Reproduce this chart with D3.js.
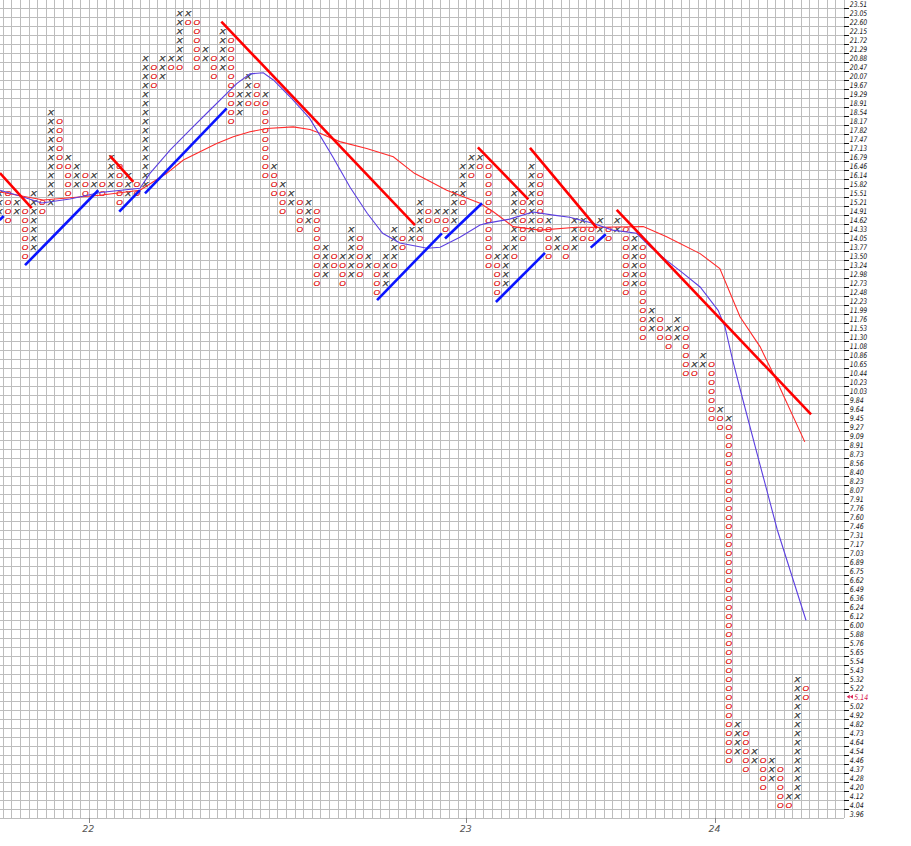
<!DOCTYPE html>
<html><head><meta charset="utf-8">
<script src="https://cdn.jsdelivr.net/npm/d3@7"></script>
<style>html,body{margin:0;padding:0;background:#fff;}svg{display:block;}</style>
</head><body><div id="chart"></div>
<script>
// ---------- DATA ----------
const boxLabels = ["23.51","23.05","22.60","22.15","21.72","21.29","20.88","20.47","20.07","19.67","19.29","18.91","18.54","18.17","17.82","17.47","17.13","16.79","16.46","16.14","15.82","15.51","15.21","14.91","14.62","14.33","14.05","13.77","13.50","13.24","12.98","12.73","12.48","12.23","11.99","11.76","11.53","11.30","11.08","10.86","10.65","10.44","10.23","10.03","9.84","9.64","9.45","9.27","9.09","8.91","8.73","8.56","8.40","8.23","8.07","7.91","7.76","7.60","7.46","7.31","7.17","7.03","6.89","6.75","6.62","6.49","6.36","6.24","6.12","6.00","5.88","5.76","5.65","5.54","5.43","5.32","5.22","5.12","5.02","4.92","4.82","4.73","4.64","4.54","4.46","4.37","4.28","4.20","4.12","4.04","3.96"];
const currentPrice = 5.14;
const yearTicks = [[10,"22"],[54,"23"],[83,"24"]];   // [first column of year, label]

// [column, top price, bottom price]
const xCols = [[-1,15.51,14.91],[1,15.21,14.91],[3,15.51,13.77],[5,18.54,15.21],[7,16.79,16.79],[8,16.46,15.82],[10,16.14,15.82],[12,16.79,15.82],[14,16.14,15.51],[16,20.88,15.82],[18,20.88,20.07],[19,20.88,20.88],[20,23.05,20.88],[21,23.05,23.05],[23,21.29,20.88],[25,22.15,20.47],[27,19.29,18.54],[28,20.07,19.29],[30,19.29,19.29],[31,16.46,16.46],[32,15.82,15.82],[33,15.51,15.21],[35,15.21,14.62],[37,13.77,12.98],[39,13.50,13.50],[40,14.33,12.98],[42,13.50,13.24],[44,13.50,12.73],[45,14.33,13.50],[47,14.33,14.05],[48,15.21,14.33],[50,14.91,14.91],[51,14.91,14.91],[52,15.51,14.62],[53,16.46,15.51],[54,16.79,16.46],[55,16.79,16.79],[57,13.50,13.50],[58,13.77,12.73],[59,15.51,13.77],[61,16.46,14.33],[63,14.62,14.62],[64,14.05,13.77],[66,14.62,13.77],[67,14.62,14.62],[69,14.62,14.33],[71,14.62,14.33],[73,14.05,12.73],[75,11.99,11.53],[77,11.53,11.53],[78,11.76,11.30],[80,10.65,10.65],[81,10.86,10.65],[83,9.64,9.64],[84,9.45,9.45],[85,4.82,4.54],[87,4.54,4.46],[89,4.46,4.28],[91,4.12,4.12],[92,5.32,4.12]];
const oCols = [[0,15.51,14.62],[2,14.91,13.50],[4,15.21,14.91],[6,18.17,16.46],[7,16.46,15.51],[9,16.14,15.51],[11,15.82,15.51],[13,16.46,15.21],[15,15.82,15.51],[17,20.47,19.67],[19,20.47,20.47],[20,20.47,20.47],[21,22.60,22.60],[22,22.60,20.47],[24,20.88,20.07],[26,21.72,18.17],[28,18.91,18.91],[29,19.67,18.91],[30,18.91,16.14],[31,16.14,15.51],[32,15.51,14.91],[34,15.21,14.33],[36,14.91,12.73],[38,13.50,13.24],[39,13.24,12.73],[41,14.05,12.98],[43,13.24,12.48],[45,13.24,13.24],[46,14.05,13.77],[48,14.05,14.05],[49,14.91,14.62],[50,14.62,14.62],[51,14.62,14.33],[53,15.21,15.21],[54,16.14,16.14],[55,16.46,16.46],[56,16.46,13.24],[57,13.24,12.48],[59,13.50,13.50],[60,15.21,14.05],[62,16.14,14.33],[63,14.33,13.50],[65,13.77,13.50],[67,14.33,14.05],[68,14.33,14.05],[70,14.33,14.05],[72,14.33,12.48],[74,13.77,11.30],[76,11.76,11.30],[77,11.30,11.08],[79,11.53,10.44],[80,10.44,10.44],[82,10.65,9.45],[83,9.45,9.27],[84,9.27,4.46],[86,4.73,4.37],[88,4.46,4.20],[90,4.37,4.04],[91,4.04,4.04],[93,5.22,5.12]];

// trend lines: [col1, price1, col2, price2]
const redTrend = [[-0.9,16.20,2.8,15.00],[11.93,16.82,14.64,15.89],[24.9,22.60,47.47,14.45],[54.8,17.14,60.68,15.29],[60.87,17.12,68.68,14.35],[70.98,14.94,93.63,9.53]];
const blueTrend = [[-0.95,14.61,-0.45,14.74],[2.02,13.23,10.56,15.60],[13.0,14.88,15.42,15.60],[16.0,15.49,25.52,18.68],[43.05,12.25,50.6,14.19],[50.97,14.03,55.28,15.16],[56.9,12.20,62.62,13.59],[67.95,13.75,69.7,14.16]];

// moving averages: [col, price]
const fastMA = [[-0.9,15.60],[1.43,15.40],[3.96,15.17],[7.26,15.30],[10.76,15.52],[15.42,15.67],[16.58,16.19],[18.92,17.04],[21.25,17.81],[23.58,18.61],[26.69,19.72],[28.24,20.15],[29.79,20.20],[30.96,19.88],[32.9,19.16],[35.2,18.27],[37.9,16.78],[39.9,15.70],[41.9,14.83],[43.7,14.19],[45.7,13.89],[48.9,13.73],[50.4,13.76],[52.7,14.07],[55.05,14.45],[55.9,14.51],[58.5,14.64],[61.2,14.87],[63.6,14.77],[65.5,14.70],[68.2,14.51],[70.5,14.29],[73.3,14.19],[74.9,13.77],[76.8,13.37],[78.7,13.00],[80.7,12.61],[82.8,11.98],[83.6,11.55],[84.5,10.73],[85.7,9.83],[87.7,8.52],[89.7,7.39],[93.04,6.06]];
const slowMA = [[-0.9,15.54],[4.15,15.27],[10.76,15.43],[15.42,15.60],[18.53,16.19],[20.47,16.67],[22.41,16.98],[24.36,17.29],[26.29,17.55],[28.24,17.74],[30.19,17.87],[33.29,17.93],[35.23,17.83],[36.4,17.68],[38.7,17.36],[41.84,17.10],[44.94,16.79],[47.4,16.19],[51.17,15.60],[55.05,15.16],[56.6,14.88],[58.9,14.40],[62.04,14.29],[66.3,14.38],[69.03,14.38],[74.08,14.40],[76.8,14.08],[80.7,13.57],[83.0,13.13],[85.35,11.81],[87.68,11.06],[89.6,10.27],[92.9,8.97]];

// ---------- LAYOUT ----------
const W = 911, H = 846;
const nRows = boxLabels.length;
const x = d3.scaleLinear().domain([0, 1]).range([7.7, 7.7 + 8.58]);
const yRow = d3.scaleLinear().domain([0, 1]).range([3.7, 3.7 + 9]);
const yPrice = d3.scaleLog().domain([+boxLabels[0], +boxLabels[nRows - 1]]).range([yRow(0), yRow(nRows - 1)]);
const lastCol = 97;
const gridRight = x(lastCol + 0.5);
const gridBottom = yRow(nRows - 0.5);
const rowOf = v => boxLabels.findIndex(b => Math.abs(+b - v) < 0.006);

const svg = d3.select("#chart").append("svg").attr("width", W).attr("height", H)
  .style("font-family", "'DejaVu Sans', 'Liberation Sans', sans-serif");
svg.append("rect").attr("width", W).attr("height", H).attr("fill", "#fff");

// grid
const grid = svg.append("g").attr("stroke", "#bdbdbd").attr("stroke-width", 1).attr("shape-rendering", "crispEdges");
grid.selectAll("line.v").data(d3.range(-1, lastCol + 1)).join("line").attr("class", "v")
  .attr("x1", c => x(c + 0.5)).attr("x2", c => x(c + 0.5)).attr("y1", 0).attr("y2", gridBottom);
grid.selectAll("line.h").data(d3.range(0, nRows + 1)).join("line").attr("class", "h")
  .attr("y1", r => yRow(r - 0.5)).attr("y2", r => yRow(r - 0.5)).attr("x1", 0).attr("x2", gridRight);

// marks (letters X and O)
function boxes(cols) {
  const out = [];
  cols.forEach(([c, top, bot]) => {
    const r0 = rowOf(top), r1 = rowOf(bot);
    for (let r = r0; r <= r1; r++) out.push({ c, r });
  });
  return out;
}
const gMarks = svg.append("g").style("font-family", "'Liberation Sans', 'DejaVu Sans', sans-serif")
  .attr("font-style", "italic").attr("text-anchor", "middle");
gMarks.selectAll("text.x").data(boxes(xCols)).join("text").attr("class", "x")
  .attr("x", d => x(d.c) + 0.3).attr("y", d => yRow(d.r) + 3.0)
  .attr("font-size", 8).attr("fill", "#2a2a2a").attr("stroke", "#2a2a2a").attr("stroke-width", 0.25)
  .attr("textLength", 6.2).attr("lengthAdjust", "spacingAndGlyphs").text("X");
gMarks.selectAll("text.o").data(boxes(oCols)).join("text").attr("class", "o")
  .attr("x", d => x(d.c) + 0.3).attr("y", d => yRow(d.r) + 3.0)
  .attr("font-size", 8).attr("fill", "#e00000").attr("stroke", "#e00000").attr("stroke-width", 0.2)
  .attr("textLength", 6.6).attr("lengthAdjust", "spacingAndGlyphs").text("O");

// moving averages
const maLine = d3.line().x(d => x(d[0])).y(d => yPrice(d[1]));
svg.append("path").datum(slowMA).attr("d", maLine).attr("fill", "none").attr("stroke", "#ff2a2a").attr("stroke-width", 1.1);
svg.append("path").datum(fastMA).attr("d", maLine).attr("fill", "none").attr("stroke", "#5b3fe0").attr("stroke-width", 1.1);

// trend lines
svg.append("g").selectAll("line").data(redTrend).join("line")
  .attr("x1", d => x(d[0])).attr("y1", d => yPrice(d[1])).attr("x2", d => x(d[2])).attr("y2", d => yPrice(d[3]))
  .attr("stroke", "#ff0000").attr("stroke-width", 2.6).attr("stroke-linecap", "butt");
svg.append("g").selectAll("line").data(blueTrend).join("line")
  .attr("x1", d => x(d[0])).attr("y1", d => yPrice(d[1])).attr("x2", d => x(d[2])).attr("y2", d => yPrice(d[3]))
  .attr("stroke", "#0a14ff").attr("stroke-width", 2.6).attr("stroke-linecap", "butt");

// right price axis
let curRow = 0;
boxLabels.forEach((b, i) => { if (Math.abs(Math.log(+b / currentPrice)) < Math.abs(Math.log(+boxLabels[curRow] / currentPrice))) curRow = i; });
const ax = svg.append("g");
ax.selectAll("line").data(d3.range(1, nRows)).join("line")
  .attr("x1", gridRight).attr("x2", gridRight + 4.5)
  .attr("y1", r => yRow(r - 0.5)).attr("y2", r => yRow(r - 0.5))
  .attr("stroke", "#111").attr("stroke-width", 1).attr("shape-rendering", "crispEdges");
ax.selectAll("text").data(boxLabels.map((b, i) => ({ b, i })).filter(d => d.i !== curRow)).join("text")
  .attr("x", gridRight + 5.5).attr("y", d => yRow(d.i) + 2.9)
  .attr("font-size", 7.7).attr("font-style", "italic").attr("fill", "#111")
  .attr("textLength", d => d.b.length * 3.5).attr("lengthAdjust", "spacingAndGlyphs")
  .text(d => d.b);
// current price marker
const cy = yRow(curRow);
const cx0 = gridRight + 2.5;
[0, 3.2].forEach(dx => {
  svg.append("path").attr("d", `M${cx0 + dx},${cy} l3,-2 l0,4 z`).attr("fill", "#d81b50");
});
svg.append("text").attr("x", cx0 + 7.5).attr("y", cy + 2.9)
  .attr("font-size", 7.7).attr("font-style", "italic").attr("fill", "#d81b50")
  .attr("textLength", 14).attr("lengthAdjust", "spacingAndGlyphs")
  .text(currentPrice.toFixed(2));

// bottom year axis
const bx = svg.append("g");
bx.selectAll("line").data(yearTicks).join("line")
  .attr("x1", d => x(d[0] - 0.5)).attr("x2", d => x(d[0] - 0.5))
  .attr("y1", gridBottom).attr("y2", gridBottom + 5)
  .attr("stroke", "#888").attr("shape-rendering", "crispEdges");
bx.selectAll("text").data(yearTicks).join("text")
  .attr("x", d => x(d[0] - 0.5) - 1).attr("y", gridBottom + 14)
  .attr("text-anchor", "middle").attr("font-size", 9.5).attr("font-style", "italic").attr("fill", "#555")
  .text(d => d[1]);
</script>
</body></html>
